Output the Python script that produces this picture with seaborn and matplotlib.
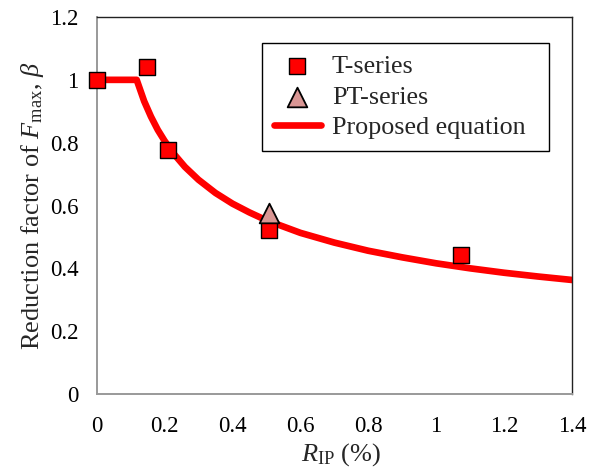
#Reduction factor of Fmax against RIP, with test series and the proposed curve.

import matplotlib
matplotlib.use("Agg")
import matplotlib.pyplot as plt
import pandas as pd
import seaborn as sns

# test results
t_ratio = [0.0, 0.149, 0.211, 0.508, 1.073]
t_beta = [1.0, 1.04, 0.777, 0.522, 0.443]

pt_ratio = [0.508]
pt_beta = [0.577]

# proposed equation
eq_ratio = [0.0, 0.05, 0.10, 0.118, 0.14, 0.16, 0.18, 0.20, 0.23, 0.26, 0.30,
            0.35, 0.40, 0.45, 0.50, 0.60, 0.70, 0.80, 0.90, 1.00, 1.10, 1.20,
            1.30, 1.40]
eq_beta = [1.0, 1.0, 1.0, 1.0, 0.932, 0.883, 0.841, 0.806, 0.761, 0.723, 0.682,
           0.640, 0.606, 0.578, 0.553, 0.513, 0.482, 0.456, 0.435, 0.416, 0.400,
           0.386, 0.374, 0.363]

x_ticks = [0, 0.2, 0.4, 0.6, 0.8, 1.0, 1.2, 1.4]
x_tick_labels = ["0", "0.2", "0.4", "0.6", "0.8", "1", "1.2", "1.4"]
y_ticks = [0, 0.2, 0.4, 0.6, 0.8, 1.0, 1.2]
y_tick_labels = ["0", "0.2", "0.4", "0.6", "0.8", "1", "1.2"]

sns.set_theme(style="white")
plt.rcParams["font.family"] = ["Liberation Serif", "DejaVu Serif"]
plt.rcParams["mathtext.fontset"] = "custom"
plt.rcParams["mathtext.rm"] = "Liberation Serif"
plt.rcParams["mathtext.it"] = "Liberation Serif:italic"

t_df = pd.DataFrame({"ratio": t_ratio, "beta": t_beta})
pt_df = pd.DataFrame({"ratio": pt_ratio, "beta": pt_beta})
eq_df = pd.DataFrame({"ratio": eq_ratio, "beta": eq_beta})

fig = plt.figure(figsize=(5.91, 4.70), dpi=100)
ax = fig.add_axes([0.1635, 0.1617, 0.8043, 0.8021])

sns.lineplot(data=eq_df, x="ratio", y="beta", ax=ax, color="#ff0000",
             linewidth=4.8, sort=False, label="Proposed equation", zorder=2)
sns.scatterplot(data=t_df, x="ratio", y="beta", ax=ax, marker="s", s=140,
                color="#ff0000", edgecolor="black", linewidth=1.0,
                label="T-series", zorder=3, clip_on=False)
sns.scatterplot(data=pt_df, x="ratio", y="beta", ax=ax, marker="^", s=200,
                color="#d99694", edgecolor="black", linewidth=1.3,
                label="PT-series", zorder=4, clip_on=False)

ax.set_xlim(0, 1.4)
ax.set_ylim(0, 1.2)
ax.set_xticks(x_ticks)
ax.set_xticklabels(x_tick_labels)
ax.set_yticks(y_ticks)
ax.set_yticklabels(y_tick_labels)

ax.tick_params(axis="both", direction="in", length=3.6, width=1.0,
               color="#999999", labelsize=16.5, labelcolor="black")
ax.tick_params(axis="x", pad=16)
ax.tick_params(axis="y", pad=13)

for side in ["left", "bottom"]:
    ax.spines[side].set_color("#999999")
    ax.spines[side].set_linewidth(1.4)
for side in ["top", "right"]:
    ax.spines[side].set_color("#222222")
    ax.spines[side].set_linewidth(1.0)

ax.set_xlabel(r"$R_{\mathrm{IP}}$ (%)", fontsize=19)
ax.xaxis.set_label_coords(0.514, -0.125)
ax.set_ylabel(r"Reduction factor of $F_{\mathrm{max}}$, $\beta$", fontsize=19,
              labelpad=3)

handles, labels = ax.get_legend_handles_labels()
order = [labels.index("T-series"), labels.index("PT-series"),
         labels.index("Proposed equation")]
# expand mode so the frame spans the same width as the original box
legend = ax.legend([handles[i] for i in order], [labels[i] for i in order],
                   loc="upper left", bbox_to_anchor=(0.3478, 0.5, 0.6038, 0.431),
                   mode="expand", borderaxespad=0, fontsize=18.8, frameon=True,
                   fancybox=False, edgecolor="black", framealpha=1,
                   borderpad=0.45, labelspacing=0.28, handlelength=1.82,
                   handletextpad=0.41)
legend.get_frame().set_linewidth(1.0)

fig.savefig("out.png", dpi=100)
plt.close(fig)
